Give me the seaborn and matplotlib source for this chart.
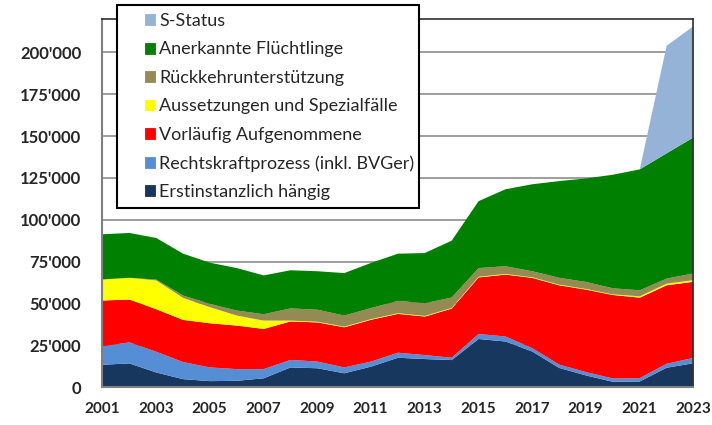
import numpy as np
import pandas as pd
import matplotlib.pyplot as plt
import seaborn as sns
from matplotlib.patches import Patch, Rectangle
from matplotlib.ticker import FuncFormatter

# Data
years = list(range(2001, 2024))
erstinstanz = [13600, 14400, 9000, 5000, 3800, 4000, 5500, 12000, 11500, 8500, 12500, 17800,
               17000, 16400, 29000, 27500, 21500, 11700, 7200, 3400, 3600, 11800, 14500]
rechtskraft = [11000, 12600, 12400, 10200, 8200, 7000, 5500, 4500, 4000, 3500, 3000, 3000,
               2400, 1400, 3000, 3000, 2000, 2000, 2000, 2000, 2000, 2400, 3200]
vorlaeufig = [27400, 25600, 25400, 25200, 26400, 26000, 24000, 23000, 23400, 24000, 25000, 23200,
              23000, 29400, 33800, 37000, 42000, 47400, 49300, 49900, 48100, 46900, 45500]
aussetzungen = [12600, 13000, 17200, 13200, 9600, 6000, 5000, 500, 400, 400, 400, 400,
                400, 400, 400, 400, 400, 400, 400, 400, 800, 1000, 1000]
rueckkehr = [0, 0, 500, 1400, 2000, 3000, 3800, 7300, 7200, 6600, 6600, 7400,
             7600, 6200, 5200, 4600, 3600, 4100, 4200, 3600, 3600, 3000, 4000]
anerkannt = [27000, 26800, 24900, 25000, 24600, 25400, 23200, 22800, 23000, 25400, 27000, 28200,
             30000, 34000, 40000, 46000, 52000, 57800, 61900, 67900, 72300, 74900, 81300]
s_status = [0] * 20 + [0, 64300, 66500]

series = ["Erstinstanzlich hängig", "Rechtskraftprozess (inkl. BVGer)", "Vorläufig Aufgenommene",
          "Aussetzungen und Spezialfälle", "Rückkehrunterstützung", "Anerkannte Flüchtlinge", "S-Status"]
colors = ["#17375E", "#558ED5", "#FF0000", "#FFFF00", "#948A54", "#008000", "#95B3D7"]

df = pd.DataFrame({
    series[0]: erstinstanz, series[1]: rechtskraft, series[2]: vorlaeufig,
    series[3]: aussetzungen, series[4]: rueckkehr, series[5]: anerkannt, series[6]: s_status,
}, index=years)

sns.set_style("white")
plt.rcParams['font.family'] = ['Lato', 'DejaVu Sans']

fig = plt.figure(figsize=(7.12, 4.25), dpi=100)
ax = fig.add_axes([102 / 712, 1 - 387 / 425, (693 - 102) / 712, (387 - 19) / 425])

ax.stackplot(df.index, [df[c] for c in series], colors=colors, linewidth=0, zorder=2)

ax.set_xlim(2001, 2023)
ax.set_ylim(0, 220000)
ax.set_yticks(np.arange(0, 200001, 25000))
ax.set_xticks(range(2001, 2024, 2))
ax.yaxis.set_major_formatter(FuncFormatter(lambda v, p: f"{v:,.0f}".replace(",", "'")))
ax.grid(axis='y', color='#969696', linewidth=1.3, zorder=1)
ax.set_axisbelow(True)
ax.tick_params(axis='both', which='major', direction='out', length=5, width=1.2, color='#808080')
ax.tick_params(axis='y', pad=10, labelsize=12)
ax.tick_params(axis='x', pad=6, labelsize=11)
for lab in ax.get_xticklabels() + ax.get_yticklabels():
    lab.set_fontweight('bold')
for s in ['left', 'bottom']:
    ax.spines[s].set_color('#808080')
    ax.spines[s].set_linewidth(1.5)
for s in ['top', 'right']:
    ax.spines[s].set_color('#303030')
    ax.spines[s].set_linewidth(1.2)
ax.spines['bottom'].set_zorder(3)

# Legend box
fig.patches.append(Rectangle((117 / 712, 1 - 208 / 425), (419 - 117) / 712, (208 - 5) / 425,
                             transform=fig.transFigure, facecolor='white', edgecolor='black',
                             linewidth=1.5, zorder=3))
handles = [Patch(facecolor=colors[i], edgecolor='#303030' if i == 0 else colors[i], linewidth=0.6)
           for i in range(len(series) - 1, -1, -1)]
labels = series[::-1]
fig.legend(handles, labels, loc='upper left', bbox_to_anchor=(145 / 712, 1 - 13 / 425),
           frameon=False, fontsize=13, handlelength=0.55, handleheight=0.55,
           handletextpad=0.25, labelspacing=0.69, borderpad=0, borderaxespad=0)

fig.savefig("out.png", dpi=100)
